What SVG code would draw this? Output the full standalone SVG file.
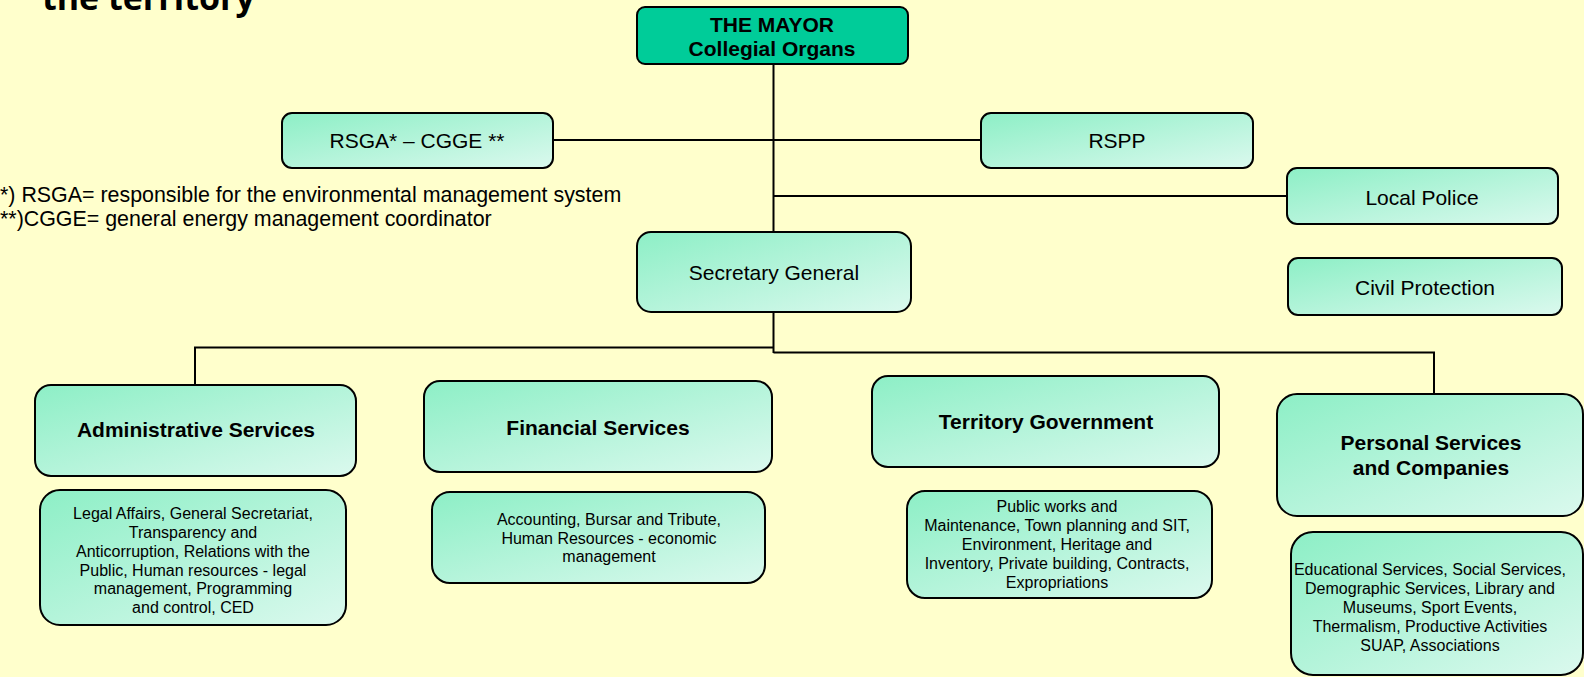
<svg xmlns="http://www.w3.org/2000/svg" width="1584" height="677" viewBox="0 0 1584 677">
<defs>
<linearGradient id="mint" x1="0" y1="0" x2="1" y2="1">
<stop offset="0" stop-color="#8DEFC6"/>
<stop offset="1" stop-color="#DBF9EE"/>
</linearGradient>
<style>
.box{fill:url(#mint);stroke:#000;stroke-width:2}
.mayor{fill:#00CC99;stroke:#000;stroke-width:2}
.lbl{font-family:"Liberation Sans",Arial,sans-serif;font-size:21px;fill:#000;text-anchor:middle}
.hd{font-family:"Liberation Sans",Arial,sans-serif;font-size:21px;font-weight:bold;fill:#000;text-anchor:middle}
.sm{font-family:"Liberation Sans",Arial,sans-serif;font-size:16px;fill:#000;text-anchor:middle}
.note{font-family:"Liberation Sans",Arial,sans-serif;font-size:21.4px;fill:#000}
.ttl{font-family:"Open Sans","DejaVu Sans",sans-serif;font-size:34px;font-weight:bold;fill:#000}
.conn{fill:none;stroke:#000;stroke-width:2}
</style>
</defs>
<rect width="1584" height="677" fill="#FFFFCC"/>
<text class="ttl" x="42" y="10">the territory</text>
<g id="connectors">
<line class="conn" x1="773.5" y1="64" x2="773.5" y2="232"/>
<line class="conn" x1="553" y1="140" x2="981" y2="140"/>
<line class="conn" x1="773.5" y1="196" x2="1287" y2="196"/>
<line class="conn" x1="773.5" y1="312" x2="773.5" y2="353"/>
<path class="conn" d="M773.5,347.5 H195 V385"/>
<path class="conn" d="M773.5,352.5 H1434 V394"/>
</g>
<g id="mayor">
<rect class="mayor" x="637" y="7" width="271" height="57" rx="8"/>
<text class="hd" x="772" y="32" font-size="20">THE MAYOR</text>
<text class="hd" x="772" y="56" font-size="20">Collegial Organs</text>
</g>
<g id="rsga">
<rect class="box" x="282" y="113" width="271" height="55" rx="10"/>
<text class="lbl" x="417" y="148">RSGA* – CGGE **</text>
</g>
<g id="rspp">
<rect class="box" x="981" y="113" width="272" height="55" rx="10"/>
<text class="lbl" x="1117" y="148">RSPP</text>
</g>
<g id="notes">
<text class="note" x="0" y="202">*) RSGA= responsible for the environmental management system</text>
<text class="note" x="0" y="226">**)CGGE= general energy management coordinator</text>
</g>
<g id="local-police">
<rect class="box" x="1287" y="168" width="271" height="56" rx="10"/>
<text class="lbl" x="1422" y="205">Local Police</text>
</g>
<g id="civil-protection">
<rect class="box" x="1288" y="258" width="274" height="57" rx="10"/>
<text class="lbl" x="1425" y="295">Civil Protection</text>
</g>
<g id="secretary-general">
<rect class="box" x="637" y="232" width="274" height="80" rx="14"/>
<text class="lbl" x="774" y="280">Secretary General</text>
</g>
<g id="administrative-services">
<rect class="box" x="35" y="385" width="321" height="91" rx="16"/>
<text class="hd" x="196" y="437" font-size="21.3">Administrative Services</text>
</g>
<g id="administrative-detail">
<rect class="box" x="40" y="490" width="306" height="135" rx="20"/>
<text class="sm" x="193" y="519">Legal Affairs, General Secretariat,</text>
<text class="sm" x="193" y="538">Transparency and</text>
<text class="sm" x="193" y="557">Anticorruption, Relations with the</text>
<text class="sm" x="193" y="576">Public, Human resources - legal</text>
<text class="sm" x="193" y="594">management, Programming</text>
<text class="sm" x="193" y="613">and control, CED</text>
</g>
<g id="financial-services">
<rect class="box" x="424" y="381" width="348" height="91" rx="16"/>
<text class="hd" x="598" y="435">Financial Services</text>
</g>
<g id="financial-detail">
<rect class="box" x="432" y="492" width="333" height="91" rx="18"/>
<text class="sm" x="609" y="525">Accounting, Bursar and Tribute,</text>
<text class="sm" x="609" y="544">Human Resources - economic</text>
<text class="sm" x="609" y="562">management</text>
</g>
<g id="territory-government">
<rect class="box" x="872" y="376" width="347" height="91" rx="16"/>
<text class="hd" x="1046" y="429">Territory Government</text>
</g>
<g id="territory-detail">
<rect class="box" x="907" y="491" width="305" height="107" rx="18"/>
<text class="sm" x="1057" y="512">Public works and</text>
<text class="sm" x="1057" y="531">Maintenance, Town planning and SIT,</text>
<text class="sm" x="1057" y="550">Environment, Heritage and</text>
<text class="sm" x="1057" y="569">Inventory, Private building, Contracts,</text>
<text class="sm" x="1057" y="588">Expropriations</text>
</g>
<g id="personal-services">
<rect class="box" x="1277" y="394" width="306" height="122" rx="20"/>
<text class="hd" x="1431" y="450">Personal Services</text>
<text class="hd" x="1431" y="475">and Companies</text>
</g>
<g id="personal-detail">
<rect class="box" x="1291" y="532" width="292" height="143" rx="22"/>
<text class="sm" x="1430" y="575">Educational Services, Social Services,</text>
<text class="sm" x="1430" y="594">Demographic Services, Library and</text>
<text class="sm" x="1430" y="613">Museums, Sport Events,</text>
<text class="sm" x="1430" y="632">Thermalism, Productive Activities</text>
<text class="sm" x="1430" y="651">SUAP, Associations</text>
</g>
</svg>
